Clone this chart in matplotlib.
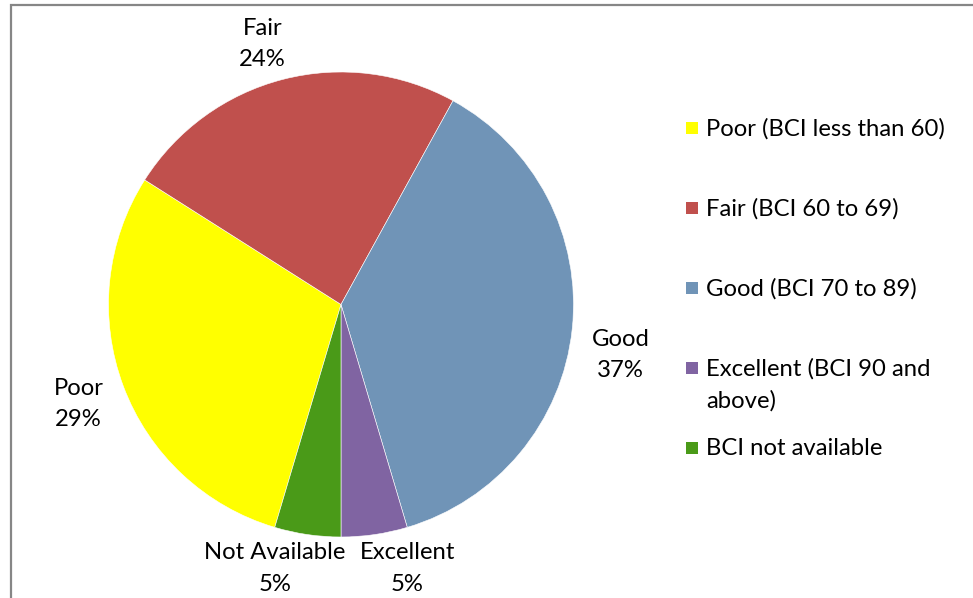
import numpy as np
import matplotlib
matplotlib.use("Agg")
import matplotlib.pyplot as plt
from matplotlib.patches import Rectangle

# bridge condition shares (percent)
categories = ["Poor", "Fair", "Good", "Excellent", "Not Available"]
shares = [29.4, 24.0, 37.4, 4.6, 4.6]
legend_labels = ["Poor (BCI less than 60)", "Fair (BCI 60 to 69)",
                 "Good (BCI 70 to 89)", "Excellent (BCI 90 and\nabove)",
                 "BCI not available"]
colors = ["#FFFF00", "#C0504D", "#7094B7", "#8064A2", "#4A9A18"]

# small nudges for the data labels (pixels), layout only
label_nudge = [(-1, -2), (-9, -10), (2, -21), (26, 12), (-26, 12)]

plt.rcParams["font.family"] = ["Lato", "DejaVu Sans"]
FS = 17.2

W, H, DPI = 973, 598, 100
fig = plt.figure(figsize=(W / DPI, H / DPI), dpi=DPI)
ax = fig.add_axes([0, 0, 1, 1])

cx, cy, R = 341, 304.5, 232.5
# last slice ends at 6 o'clock, slices run clockwise
start = -90 - shares[-1] / sum(shares) * 360
wedges, _ = ax.pie(shares, colors=colors, startangle=start, counterclock=False,
                   radius=1, center=(0, 0),
                   wedgeprops=dict(edgecolor="white", linewidth=0.4))
ax.set_xlim(-cx / R, (W - cx) / R)
ax.set_ylim(-(H - cy) / R, cy / R)
ax.set_aspect("auto")
ax.axis("off")

for w, name, val, nd in zip(wedges, categories, shares, label_nudge):
    mid = np.deg2rad((w.theta1 + w.theta2) / 2)
    x, y = 1.2 * np.cos(mid), 1.2 * np.sin(mid)
    ax.annotate(f"{name}\n{val:.0f}%", (x, y), xytext=nd, textcoords="offset pixels",
                ha="center", va="center", fontsize=FS, linespacing=1.6)

# outer chart border
fig.patches.append(Rectangle((11 / W, -0.05), 1.2, 1.05 - 5 / H, transform=fig.transFigure,
                             fill=False, edgecolor="#868686", linewidth=1.6))

# legend
for i, (lab, c) in enumerate(zip(legend_labels, colors)):
    yc = 128 + 80 * i
    fig.patches.append(Rectangle((686 / W, 1 - (yc + 6) / H), 12 / W, 12 / H,
                                 transform=fig.transFigure, facecolor=c, edgecolor="none"))
    fig.text(706 / W, 1 - (yc - 10) / H, lab, ha="left", va="top",
             fontsize=FS, linespacing=1.6)

fig.savefig("out.png", dpi=DPI)
